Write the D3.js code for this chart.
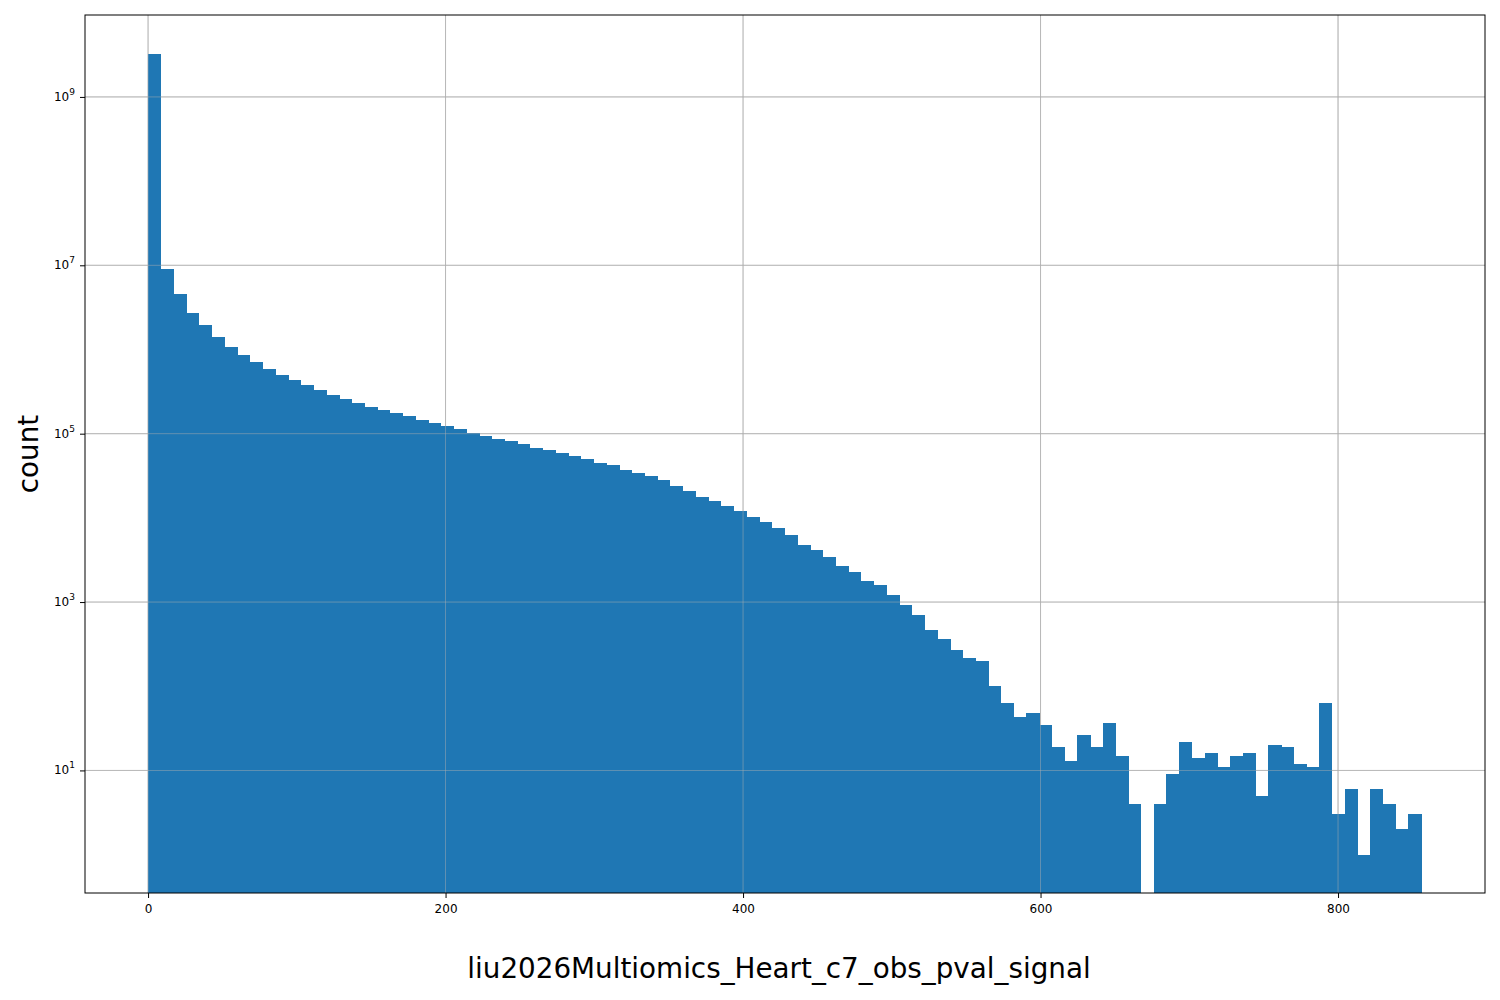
<!DOCTYPE html>
<html>
<head>
<meta charset="utf-8">
<script src="https://cdn.jsdelivr.net/npm/d3@7"></script>
<style>
body { margin: 0; background: #fff; font-family: "DejaVu Sans", sans-serif; }
</style>
</head>
<body>
<div id="chart"></div>
<script>
// histogram counts, 100 equal bins from 0 to ~855.8
const binStart = 0;
const binWidth = 8.558;
const counts = [
    3.2e9, 9e6, 4.6e6, 2.7e6, 1.95e6, 1.4e6, 1.07e6, 8.7e5, 7.1e5, 5.9e5,
    5e5, 4.4e5, 3.8e5, 3.3e5, 2.9e5, 2.6e5, 2.3e5, 2.1e5, 1.9e5, 1.77e5,
    1.6e5, 1.45e5, 1.34e5, 1.23e5, 1.13e5, 1.03e5, 9.5e4, 8.6e4, 8.2e4, 7.6e4,
    6.8e4, 6.4e4, 5.9e4, 5.4e4, 5e4, 4.5e4, 4.2e4, 3.7e4, 3.4e4, 3.1e4,
    2.8e4, 2.4e4, 2.1e4, 1.78e4, 1.6e4, 1.38e4, 1.2e4, 1.02e4, 8.9e3, 7.6e3,
    6.3e3, 4.8e3, 4.1e3, 3.4e3, 2.7e3, 2.3e3, 1.8e3, 1.6e3, 1.22e3, 930,
    710, 460, 365, 270, 218, 197, 100, 63, 43, 48,
    35, 19, 13, 26, 19, 37, 15, 4, 0, 4,
    9, 22, 14, 16, 11, 15, 16, 5, 20, 19,
    12, 11, 63, 3, 6, 1, 6, 4, 2, 3
];
const xTicks = [0, 200, 400, 600, 800];
const yTicks = [1e1, 1e3, 1e5, 1e7, 1e9];
const xLabel = "liu2026Multiomics_Heart_c7_obs_pval_signal";
const yLabel = "count";

const width = 1500, height = 1000;
const margin = {left: 85, right: 15, top: 15, bottom: 107};

const svg = d3.select("#chart").append("svg")
    .attr("width", width)
    .attr("height", height);

const x = d3.scaleLinear()
    .domain([-42.4, 898.8])
    .range([margin.left, width - margin.right]);

const y = d3.scaleLog()
    .domain([0.35, 9.4e9])
    .range([height - margin.bottom, margin.top]);

const bins = counts.map((c, i) => ({x0: binStart + i * binWidth, x1: binStart + (i + 1) * binWidth, c}));

function grid(g, opacity) {
    g.selectAll(".gx").data(xTicks).enter().append("line")
        .attr("x1", d => x(d)).attr("x2", d => x(d))
        .attr("y1", margin.top).attr("y2", height - margin.bottom)
        .attr("stroke", "#b0b0b0").attr("stroke-width", 0.8).attr("opacity", opacity);
    g.selectAll(".gy").data(yTicks).enter().append("line")
        .attr("x1", margin.left).attr("x2", width - margin.right)
        .attr("y1", d => y(d)).attr("y2", d => y(d))
        .attr("stroke", "#b0b0b0").attr("stroke-width", 0.8).attr("opacity", opacity);
}

grid(svg.append("g"), 1);

// bars
svg.append("g").attr("shape-rendering", "crispEdges").selectAll("rect")
    .data(bins.filter(d => d.c > 0))
    .enter().append("rect")
    .attr("x", d => x(d.x0))
    .attr("width", d => x(d.x1) - x(d.x0) + 0.5)
    .attr("y", d => y(d.c))
    .attr("height", d => y.range()[0] - y(d.c))
    .attr("fill", "#1f77b4");

grid(svg.append("g"), 0.6);

// axes
const xAxis = svg.append("g")
    .attr("transform", `translate(0,${height - margin.bottom})`)
    .call(d3.axisBottom(x).tickValues(xTicks).tickSizeOuter(0).tickSize(5).tickPadding(6));
const yAxis = svg.append("g")
    .attr("transform", `translate(${margin.left},0)`)
    .call(d3.axisLeft(y).tickValues(yTicks).tickFormat("").tickSizeOuter(0).tickSize(5));
[xAxis, yAxis].forEach(a => {
    a.select(".domain").remove();
    a.selectAll("text").style("font-size", "12px").style("font-family", "DejaVu Sans");
});

yTicks.forEach(t => {
    const txt = svg.append("text")
        .attr("x", margin.left - 10)
        .attr("y", y(t) + 4)
        .attr("text-anchor", "end")
        .style("font-size", "12px");
    txt.append("tspan").text("10");
    txt.append("tspan").attr("dy", -6).style("font-size", "9px").text(Math.round(Math.log10(t)));
});

svg.append("rect")
    .attr("x", margin.left).attr("y", margin.top)
    .attr("width", width - margin.left - margin.right)
    .attr("height", height - margin.top - margin.bottom)
    .attr("fill", "none").attr("stroke", "#000").attr("stroke-width", 1);

svg.append("text")
    .attr("x", (margin.left + width - margin.right) / 2 - 6)
    .attr("y", 978)
    .attr("text-anchor", "middle")
    .style("font-size", "27.8px")
    .text(xLabel);

svg.append("text")
    .attr("transform", `translate(38,${(margin.top + height - margin.bottom) / 2}) rotate(-90)`)
    .attr("text-anchor", "middle")
    .style("font-size", "27.8px")
    .text(yLabel);
</script>
</body>
</html>
